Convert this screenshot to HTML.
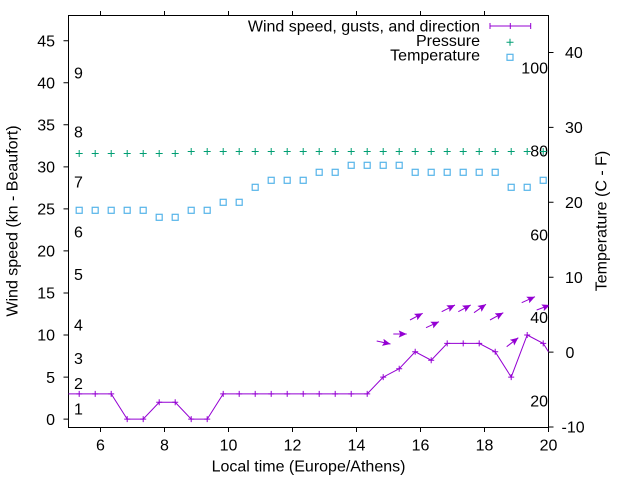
<!DOCTYPE html>
<html>
<head>
<meta charset="utf-8">
<style>
html,body{margin:0;padding:0;background:#fff;}
svg{display:block;}
text{font-family:"Liberation Sans",Arial,sans-serif;font-size:16px;fill:#000;}
</style>
</head>
<body>
<svg width="640" height="480" viewBox="0 0 640 480" xmlns="http://www.w3.org/2000/svg">
<defs>
<clipPath id="pa"><rect x="68.5" y="15.5" width="480" height="412"/></clipPath>
<marker id="ah" markerUnits="userSpaceOnUse" markerWidth="12" markerHeight="12" refX="8" refY="3.6" orient="auto">
<path d="M0,0 L8,3.6 L0,7.2 L1.5,3.6 z" fill="#9400d3"/>
</marker>
</defs>
<rect width="640" height="480" fill="#fff"/>

<!-- Border -->
<rect x="68.5" y="15.5" width="480" height="412" fill="none" stroke="#000" stroke-width="1"/>

<!-- Ticks -->
<path stroke="#000" stroke-width="1" fill="none" d="
M63.5,419.1H68.5 M63.5,377.1H68.5 M63.5,335.0H68.5 M63.5,293.0H68.5 M63.5,250.9H68.5
M63.5,208.9H68.5 M63.5,166.9H68.5 M63.5,124.8H68.5 M63.5,82.8H68.5 M63.5,40.7H68.5
M100.5,427.5V432 M164.5,427.5V432 M228.5,427.5V432 M292.5,427.5V432 M356.5,427.5V432 M420.5,427.5V432 M484.5,427.5V432 M548.5,427.5V432
M100.5,11V15.5 M164.5,11V15.5 M228.5,11V15.5 M292.5,11V15.5 M356.5,11V15.5 M420.5,11V15.5 M484.5,11V15.5
M548.5,52.5H553.5 M548.5,127.4H553.5 M548.5,202.3H553.5 M548.5,277.2H553.5 M548.5,352.1H553.5 M548.5,427H553.5
"/>

<!-- Left tick labels -->
<g text-anchor="end">
<text x="55" y="424.8">0</text>
<text x="55" y="382.8">5</text>
<text x="55" y="340.7">10</text>
<text x="55" y="298.7">15</text>
<text x="55" y="256.6">20</text>
<text x="55" y="214.6">25</text>
<text x="55" y="172.6">30</text>
<text x="55" y="130.5">35</text>
<text x="55" y="88.5">40</text>
<text x="55" y="46.4">45</text>
</g>

<!-- Beaufort labels -->
<g>
<text x="74" y="414.7">1</text>
<text x="74" y="389">2</text>
<text x="74" y="364">3</text>
<text x="74" y="330.7">4</text>
<text x="74" y="280">5</text>
<text x="74" y="237.4">6</text>
<text x="74" y="187.4">7</text>
<text x="74" y="137.4">8</text>
<text x="74" y="78.4">9</text>
</g>

<!-- Fahrenheit labels -->
<g text-anchor="end">
<text x="548" y="73.4">100</text>
<text x="548" y="156.7">80</text>
<text x="548" y="240.7">60</text>
<text x="548" y="323">40</text>
<text x="548" y="406.7">20</text>
</g>

<!-- Right tick labels -->
<g>
<text x="565" y="58.2">40</text>
<text x="565" y="133.1">30</text>
<text x="565" y="208">20</text>
<text x="565" y="282.9">10</text>
<text x="565.5" y="357.8">0</text>
<text x="561.5" y="432.7">-10</text>
</g>

<!-- X tick labels -->
<g text-anchor="middle">
<text x="100.5" y="450.5">6</text>
<text x="164.5" y="450.5">8</text>
<text x="228.5" y="450.5">10</text>
<text x="292.5" y="450.5">12</text>
<text x="356.5" y="450.5">14</text>
<text x="420.5" y="450.5">16</text>
<text x="484.5" y="450.5">18</text>
<text x="548.5" y="450.5">20</text>
</g>

<!-- Axis titles -->
<text x="308.5" y="471.7" text-anchor="middle">Local time (Europe/Athens)</text>
<text transform="translate(17.5,221) rotate(-90)" text-anchor="middle">Wind speed (kn - Beaufort)</text>
<text transform="translate(606.5,221) rotate(-90)" text-anchor="middle">Temperature (C - F)</text>

<!-- Legend -->
<g text-anchor="end">
<text x="480" y="31.4">Wind speed, gusts, and direction</text>
<text x="480" y="46">Pressure</text>
<text x="480" y="60.7">Temperature</text>
</g>
<path stroke="#9400d3" stroke-width="1" fill="none" d="M490,26H530.7 M490,23V29 M510.3,23V29 M530.7,23V29"/>
<path stroke="#009e73" stroke-width="1" fill="none" d="M506.5,42.3h7M510,38.8v7"/>
<rect x="507" y="54.3" width="6" height="6" fill="none" stroke="#56b4e9" stroke-width="1.2"/>

<g clip-path="url(#pa)">
<!-- Pressure -->
<path stroke="#009e73" stroke-width="1" fill="none" d="
M75.7,153.5h7M79.2,150v7 M91.7,153.5h7M95.2,150v7 M107.7,153.5h7M111.2,150v7 M123.7,153.5h7M127.2,150v7
M139.7,153.5h7M143.2,150v7 M155.7,153.5h7M159.2,150v7 M171.7,153.5h7M175.2,150v7
M187.7,151.5h7M191.2,148v7 M203.7,151.5h7M207.2,148v7 M219.7,151.5h7M223.2,148v7 M235.7,151.5h7M239.2,148v7
M251.7,151.5h7M255.2,148v7 M267.7,151.5h7M271.2,148v7 M283.7,151.5h7M287.2,148v7 M299.7,151.5h7M303.2,148v7
M315.7,151.5h7M319.2,148v7 M331.7,151.5h7M335.2,148v7 M347.7,151.5h7M351.2,148v7 M363.7,151.5h7M367.2,148v7
M379.7,151.5h7M383.2,148v7 M395.7,151.5h7M399.2,148v7 M411.7,151.5h7M415.2,148v7 M427.7,151.5h7M431.2,148v7
M443.7,151.5h7M447.2,148v7 M459.7,151.5h7M463.2,148v7 M475.7,151.5h7M479.2,148v7 M491.7,151.5h7M495.2,148v7
M507.7,151.5h7M511.2,148v7 M523.7,151.5h7M527.2,148v7 M539.7,151.5h7M543.2,148v7
"/>

<!-- Temperature -->
<g fill="none" stroke="#56b4e9" stroke-width="1.2">
<rect x="76.2" y="207.3" width="6" height="6"/>
<rect x="92.2" y="207.3" width="6" height="6"/>
<rect x="108.2" y="207.3" width="6" height="6"/>
<rect x="124.2" y="207.3" width="6" height="6"/>
<rect x="140.2" y="207.3" width="6" height="6"/>
<rect x="156.2" y="214.3" width="6" height="6"/>
<rect x="172.2" y="214.3" width="6" height="6"/>
<rect x="188.2" y="207.3" width="6" height="6"/>
<rect x="204.2" y="207.3" width="6" height="6"/>
<rect x="220.2" y="199.3" width="6" height="6"/>
<rect x="236.2" y="199.3" width="6" height="6"/>
<rect x="252.2" y="184.3" width="6" height="6"/>
<rect x="268.2" y="177.3" width="6" height="6"/>
<rect x="284.2" y="177.3" width="6" height="6"/>
<rect x="300.2" y="177.3" width="6" height="6"/>
<rect x="316.2" y="169.3" width="6" height="6"/>
<rect x="332.2" y="169.3" width="6" height="6"/>
<rect x="348.2" y="162.3" width="6" height="6"/>
<rect x="364.2" y="162.3" width="6" height="6"/>
<rect x="380.2" y="162.3" width="6" height="6"/>
<rect x="396.2" y="162.3" width="6" height="6"/>
<rect x="412.2" y="169.3" width="6" height="6"/>
<rect x="428.2" y="169.3" width="6" height="6"/>
<rect x="444.2" y="169.3" width="6" height="6"/>
<rect x="460.2" y="169.3" width="6" height="6"/>
<rect x="476.2" y="169.3" width="6" height="6"/>
<rect x="492.2" y="169.3" width="6" height="6"/>
<rect x="508.2" y="184.3" width="6" height="6"/>
<rect x="524.2" y="184.3" width="6" height="6"/>
<rect x="540.2" y="177.3" width="6" height="6"/>
</g>

<!-- Wind speed line -->
<polyline fill="none" stroke="#9400d3" stroke-width="1" points="63.2,393.9 79.2,393.9 95.2,393.9 111.2,393.9 127.2,419.1 143.2,419.1 159.2,402.3 175.2,402.3 191.2,419.1 207.2,419.1 223.2,393.9 239.2,393.9 255.2,393.9 271.2,393.9 287.2,393.9 303.2,393.9 319.2,393.9 335.2,393.9 351.2,393.9 367.2,393.9 383.2,377.1 399.2,368.7 415.2,351.8 431.2,360.2 447.2,343.4 463.2,343.4 479.2,343.4 495.2,351.8 511.2,377.1 527.2,335.0 543.2,343.4 559.2,368.7"/>
<path stroke="#9400d3" stroke-width="1" fill="none" d="
M76.2,393.9h6M79.2,390.9v6 M92.2,393.9h6M95.2,390.9v6 M108.2,393.9h6M111.2,390.9v6
M124.2,419.1h6M127.2,416.1v6 M140.2,419.1h6M143.2,416.1v6
M156.2,402.3h6M159.2,399.3v6 M172.2,402.3h6M175.2,399.3v6
M188.2,419.1h6M191.2,416.1v6 M204.2,419.1h6M207.2,416.1v6
M220.2,393.9h6M223.2,390.9v6 M236.2,393.9h6M239.2,390.9v6 M252.2,393.9h6M255.2,390.9v6 M268.2,393.9h6M271.2,390.9v6
M284.2,393.9h6M287.2,390.9v6 M300.2,393.9h6M303.2,390.9v6 M316.2,393.9h6M319.2,390.9v6 M332.2,393.9h6M335.2,390.9v6
M348.2,393.9h6M351.2,390.9v6 M364.2,393.9h6M367.2,390.9v6
M380.2,377.1h6M383.2,374.1v6 M396.2,368.7h6M399.2,365.7v6 M412.2,351.8h6M415.2,348.8v6 M428.2,360.2h6M431.2,357.2v6
M444.2,343.4h6M447.2,340.4v6 M460.2,343.4h6M463.2,340.4v6 M476.2,343.4h6M479.2,340.4v6 M492.2,351.8h6M495.2,348.8v6
M508.2,377.1h6M511.2,374.1v6 M524.2,335.0h6M527.2,332.0v6 M540.2,343.4h6M543.2,340.4v6
"/>

<!-- Wind direction arrows -->
<g stroke="#9400d3" stroke-width="1" fill="none" marker-end="url(#ah)">
<line x1="376.7" y1="341" x2="390.5" y2="344"/>
<line x1="393.3" y1="334" x2="406.7" y2="334"/>
<line x1="410" y1="320" x2="422.7" y2="313.3"/>
<line x1="426" y1="327.7" x2="439" y2="321.7"/>
<line x1="441.7" y1="311.7" x2="455" y2="305"/>
<line x1="458.3" y1="311.7" x2="470.7" y2="305"/>
<line x1="474" y1="312.7" x2="486" y2="304.3"/>
<line x1="490" y1="320" x2="503.3" y2="312.7"/>
<line x1="506.7" y1="346.7" x2="518.3" y2="337.7"/>
<line x1="521.7" y1="302.7" x2="535" y2="296.7"/>
<line x1="536.7" y1="310" x2="550" y2="305"/>
</g>
</g>
</svg>
</body>
</html>
